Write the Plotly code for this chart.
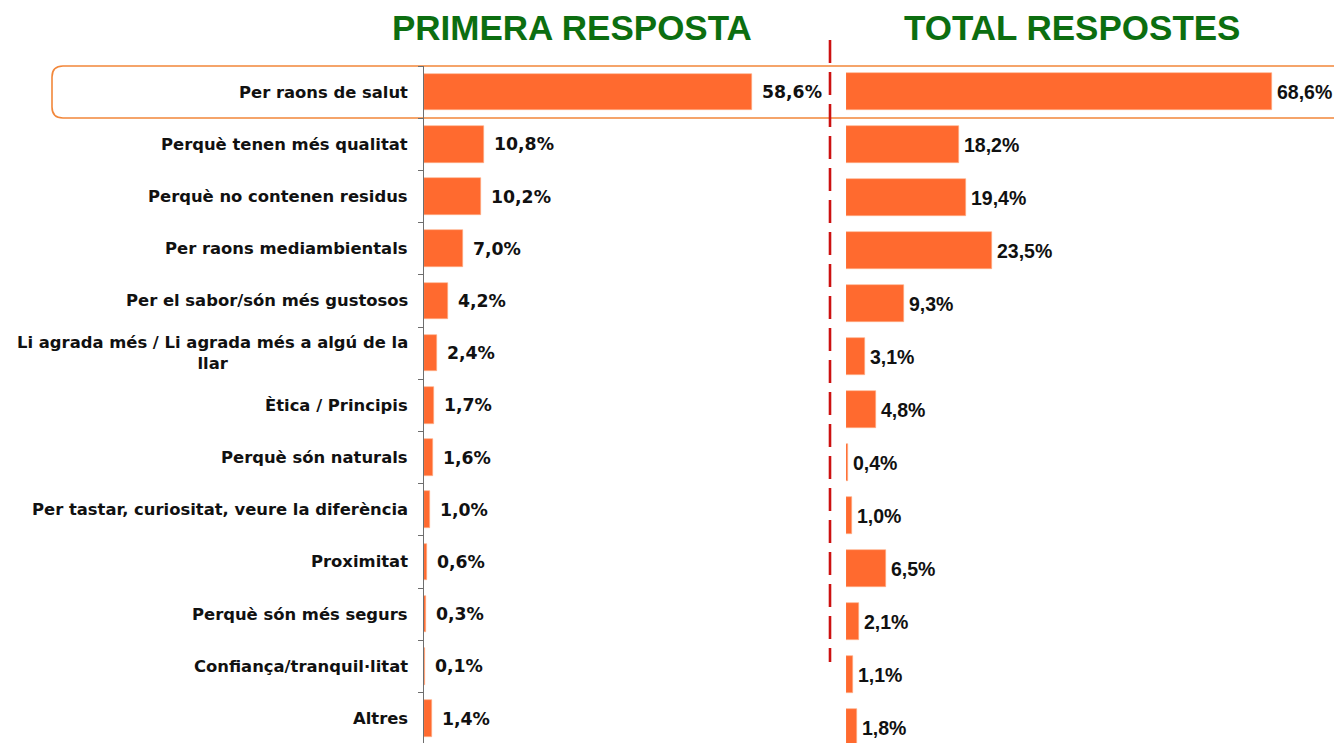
import plotly.graph_objects as go

# Motius de compra: primera resposta vs total respostes (%)
categories = [
    "Per raons de salut",
    "Perquè tenen més qualitat",
    "Perquè no contenen residus",
    "Per raons mediambientals",
    "Per el sabor/són més gustosos",
    "Li agrada més / Li agrada més a algú de la<br>llar",
    "Ètica / Principis",
    "Perquè són naturals",
    "Per tastar, curiositat, veure la diferència",
    "Proximitat",
    "Perquè són més segurs",
    "Confiança/tranquil·litat",
    "Altres",
]
primera = [58.6, 10.8, 10.2, 7.0, 4.2, 2.4, 1.7, 1.6, 1.0, 0.6, 0.3, 0.1, 1.4]
total = [68.6, 18.2, 19.4, 23.5, 9.3, 3.1, 4.8, 0.4, 1.0, 6.5, 2.1, 1.1, 1.8]
titles = ["PRIMERA RESPOSTA", "TOTAL RESPOSTES"]

W, H = 1334, 743
BAR = "#FF6A2F"
GREEN = "#0C6E10"


def px_x(p):
    return p / W


def px_y(p):
    return 1 - p / H


def fmt(v):
    return f"{v:.1f}".replace(".", ",") + "%"


fig = go.Figure()

fig.add_trace(go.Bar(
    x=primera, y=categories, orientation="h",
    marker=dict(color=BAR, line=dict(color="#FFB08A", width=0.6)),
    width=0.7, xaxis="x", yaxis="y", hoverinfo="skip",
))
fig.add_trace(go.Bar(
    x=total, y=categories, orientation="h",
    marker=dict(color=BAR, line=dict(color="#FFB08A", width=0.6)),
    width=0.7, xaxis="x2", yaxis="y2", hoverinfo="skip",
))

annotations = []
# category labels (centered multi-line, right edge next to the axis)
for c in categories:
    annotations.append(dict(
        x=px_x(410), xref="paper", y=c, yref="y",
        text=c, showarrow=False, xanchor="right", yanchor="middle",
        align="center",
        font=dict(family="DejaVu Sans", size=16.4, color="#111111", weight="bold"),
    ))
# value labels
for c, v in zip(categories, primera):
    annotations.append(dict(
        x=v, xref="x", y=c, yref="y", text=fmt(v), showarrow=False,
        xanchor="left", yanchor="middle", xshift=8,
        font=dict(family="DejaVu Sans", size=17.3, color="#111111", weight="bold"),
    ))
for c, v in zip(categories, total):
    annotations.append(dict(
        x=v, xref="x2", y=c, yref="y2", text=fmt(v), showarrow=False,
        xanchor="left", yanchor="middle", xshift=3,
        font=dict(family="Liberation Sans, Arial", size=19.5, color="#111111", weight="bold"),
    ))
# panel titles
for t, cx in zip(titles, [572, 1072]):
    annotations.append(dict(
        x=px_x(cx), xref="paper", y=px_y(28), yref="paper", text=t,
        showarrow=False, xanchor="center", yanchor="middle",
        font=dict(family="Liberation Sans, Arial", size=35, color=GREEN, weight="bold"),
    ))

# rounded highlight box around the first row
x0, x1, y0, y1, r = 52, 1345, 66, 118, 11
path = (
    f"M {px_x(x0 + r)},{px_y(y0)} L {px_x(x1 - r)},{px_y(y0)} "
    f"Q {px_x(x1)},{px_y(y0)} {px_x(x1)},{px_y(y0 + r)} "
    f"L {px_x(x1)},{px_y(y1 - r)} Q {px_x(x1)},{px_y(y1)} {px_x(x1 - r)},{px_y(y1)} "
    f"L {px_x(x0 + r)},{px_y(y1)} Q {px_x(x0)},{px_y(y1)} {px_x(x0)},{px_y(y1 - r)} "
    f"L {px_x(x0)},{px_y(y0 + r)} Q {px_x(x0)},{px_y(y0)} {px_x(x0 + r)},{px_y(y0)} Z"
)
shapes = [
    dict(type="path", path=path, xref="paper", yref="paper",
         line=dict(color="#F2873A", width=1.6), layer="below"),
    dict(type="line", xref="paper", yref="paper",
         x0=px_x(830), x1=px_x(830), y0=px_y(40), y1=px_y(662),
         line=dict(color="#CC1111", width=2.6, dash="23px,9px")),
]

left_step, right_step = 52.17, 53.0
left_c0, right_c0 = 92.5, 91.5

fig.update_layout(
    width=W, height=H,
    margin=dict(l=0, r=0, t=0, b=0),
    paper_bgcolor="white", plot_bgcolor="rgba(0,0,0,0)",
    showlegend=False, bargap=0,
    annotations=annotations, shapes=shapes,
    xaxis=dict(domain=[px_x(424), px_x(830)], range=[0, (830 - 424) / 5.597],
               visible=False, fixedrange=True),
    yaxis=dict(domain=[0, px_y(66)], type="category", categoryarray=categories,
               range=[(H - left_c0) / left_step, -0.5],
               showticklabels=False, showgrid=False, zeroline=False,
               showline=True, linecolor="#6E6E6E", linewidth=1,
               ticks="outside", tickson="boundaries", ticklen=5,
               tickcolor="#6E6E6E", tickwidth=1, anchor="x"),
    xaxis2=dict(domain=[px_x(846), 1], range=[0, (W - 846) / 6.21],
                visible=False, fixedrange=True, anchor="y2"),
    yaxis2=dict(domain=[0, 1], type="category", categoryarray=categories,
                range=[(H - right_c0) / right_step, -right_c0 / right_step],
                visible=False, anchor="x2"),
)

fig.write_html("out.html")
